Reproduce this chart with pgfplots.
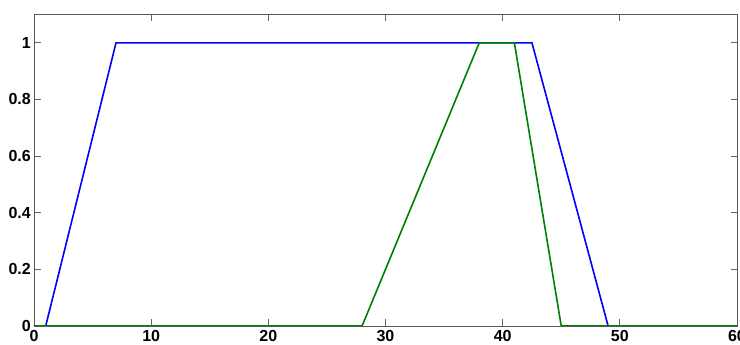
\documentclass[border=0pt]{standalone}
\usepackage{pgfplots}
\pgfplotsset{compat=1.18}
\usepackage{fontspec}
\setmainfont{Liberation Sans}
\begin{document}
\begin{tikzpicture}
\clip (0,0) rectangle (740pt,345pt);
\path[use as bounding box] (0,0) rectangle (740pt,345pt);
\begin{axis}[
  at={(34pt,19pt)}, anchor=south west,
  scale only axis, width=703pt, height=311.5pt,
  xmin=0, xmax=60, ymin=0, ymax=1.1,
  xtick={0,10,...,60}, ytick={0,0.2,0.4,0.6,0.8,1},
  yticklabels={0,0.2,0.4,0.6,0.8,1},
  tick align=inside, tick pos=both,
  major tick length=6.5pt,
  axis line style={black!65, line width=0.9pt},
  every tick/.style={black!60, line width=0.8pt},
  tick label style={font=\fontsize{16}{18}\selectfont\bfseries, inner sep=2pt},
  /pgf/number format/assume math mode=true,
  xticklabel style={yshift=-2pt},
  yticklabel style={xshift=-1pt},
]
\addplot[blue, line width=1.6pt] coordinates {(0,0) (1,0) (7,1) (42.5,1) (49,0) (60,0)};
\addplot[green!50!black, line width=1.6pt] coordinates {(0,0) (28,0) (38,1) (41,1) (45,0) (60,0)};
\end{axis}
\end{tikzpicture}
\end{document}
